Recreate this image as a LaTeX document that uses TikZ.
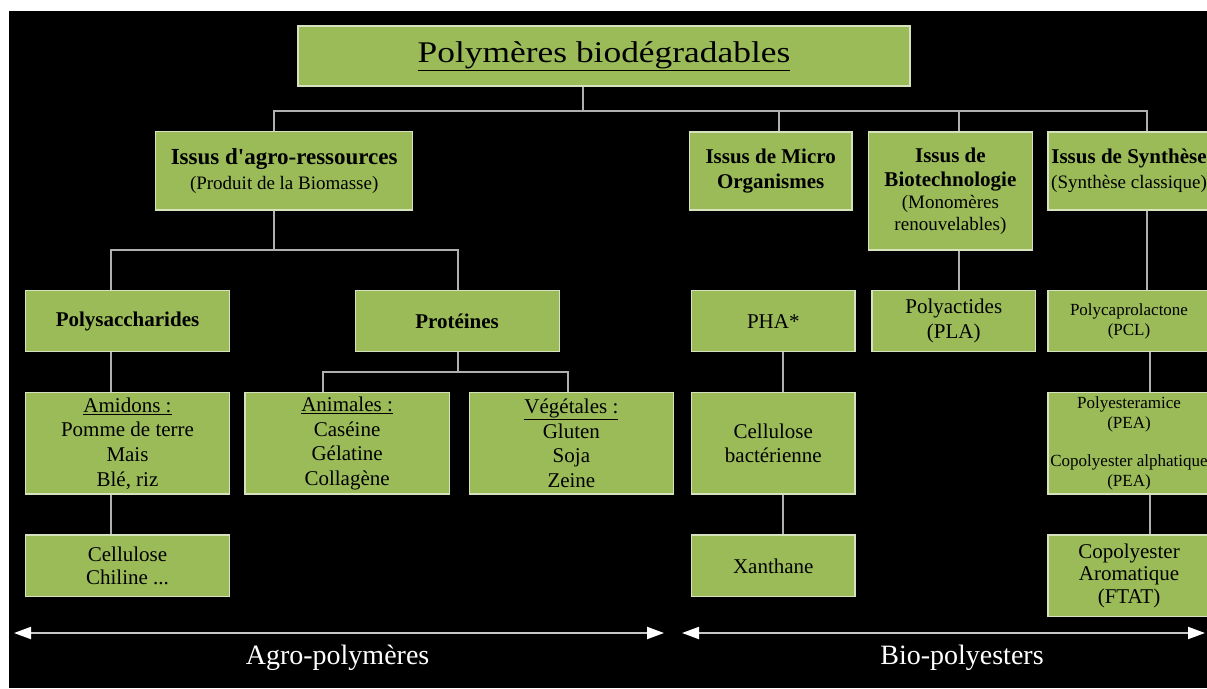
\documentclass[tikz,border=0pt]{standalone}
\usepackage{fontspec}
\setmainfont{Liberation Serif}
\newfontfamily\titlefont[FakeStretch=1.18]{Liberation Serif}
\usetikzlibrary{arrows.meta}
\definecolor{boxgreen}{RGB}{155,187,89}
\definecolor{boxline}{RGB}{214,226,190}
\definecolor{linkgray}{RGB}{175,175,175}
\newcommand{\boxhead}[1]{\textbf{\fontsize{21}{25}\selectfont #1}}
\newcommand{\boxsub}[1]{{\fontsize{19}{22}\selectfont #1}}

\begin{document}
\begin{tikzpicture}
[x=1pt,y=-1pt,
box/.style={draw=boxline,line width=1.2pt,fill=boxgreen,inner sep=0pt,align=center,
	text=black,font=\fontsize{21}{24.7}\selectfont},
wh/.style 2 args={minimum width=#1pt,minimum height=#2pt},
small/.style={font=\fontsize{17}{20}\selectfont},
link/.style={draw=linkgray,line width=2pt},
rangearrow/.style={draw=white!78!black,line width=2pt,
	{Triangle[length=17pt,width=12pt,color=white]}-{Triangle[length=17pt,width=12pt,color=white]}},
caption/.style={text=white,font=\fontsize{28}{30}\selectfont}]

\useasboundingbox (0,0) rectangle (1207,688);
\fill[white] (0,0) rectangle (1207,688);
\fill[black] (9,11) rectangle (1207,688);
\clip (0,0) rectangle (1207,688);

% root
\node[box,wh={612}{60}] (title) at (604,56)
	{\titlefont\fontsize{30}{32}\selectfont\underline{Polymères biodégradables}};

% origins
\node[box,wh={256.7}{78.3}] (agro) at (284.2,170.9)
	{\textbf{\fontsize{23}{25}\selectfont Issus d\textquotesingle agro-ressources}\\\boxsub{(Produit de la Biomasse)}};
\node[box,wh={162.6}{78}] (micro) at (770.7,171) {\boxhead{Issus de Micro}\\\boxhead{Organismes}};
\node[box,wh={164}{118}] (biotech) at (950.4,191)
	{\boxhead{Issus de}\\\boxhead{Biotechnologie}\\[-3pt]\boxsub{(Monomères}\\[-3pt]\boxsub{renouvelables)}};
\node[box,wh={162}{78}] (synth) at (1129,171) {\boxhead{Issus de Synthèse}\\\boxsub{(Synthèse classique)}};

% families
\node[box,wh={204.3}{61}] (polys) at (127.5,321.2) {\textbf{Polysaccharides}};
\node[box,wh={204}{61}] (prot) at (457.1,321.2) {\textbf{Protéines}};
\node[box,wh={163.5}{61}] (pha) at (773.3,321.2) {PHA*};
\node[box,wh={163.5}{61}] (pla) at (953.8,321.2) {Polyactides\\(PLA)};
\node[box,small,wh={162}{61}] (pcl) at (1129,321.2) {Polycaprolactone\\(PCL)};

% examples
\node[box,wh={204.3}{101.3}] (amidons) at (127.5,443.4)
	{\underline{Amidons :}\\Pomme de terre\\Mais\\Blé, riz};
\node[box,wh={204.4}{101.3}] (anim) at (347.1,443.4)
	{\underline{Animales :}\\Caséine\\Gélatine\\Collagène};
\node[box,wh={204.4}{101.3}] (veget) at (571.4,443.4)
	{\underline{Végétales :}\\Gluten\\Soja\\Zeine};
\node[box,wh={163.5}{101.3}] (cbact) at (773.3,443.4) {Cellulose\\bactérienne};
\node[box,small,wh={162}{101.3}] (pea) at (1129,443.4)
	{Polyesteramice\\(PEA)\\[18pt]Copolyester alphatique\\(PEA)};

\node[box,wh={204.3}{61.7}] (cellu) at (127.5,565.9) {Cellulose\\[-2pt]Chiline ...};
\node[box,wh={163.5}{61.7}] (xanth) at (773.3,565.9) {Xanthane};
\node[box,wh={162}{81.7}] (ftat) at (1129,575.9) {Copolyester\\[-2pt]Aromatique\\[-2pt](FTAT)};

% connectors
\coordinate (bus1) at (583,111);
\coordinate (bus2) at (274.4,250);
\coordinate (bus3) at (458,372.3);
\draw[link] (title.south -| bus1) -- (bus1);
\foreach \c/\s in {agro/-9.8,micro/8.3,biotech/8.6,synth/17.6}
	\draw[link] (bus1) -| ([xshift=\s pt]\c.north);
\draw[link] (agro.south -| bus2) -- (bus2);
\foreach \c/\s in {polys/-16.5,prot/0.9}
	\draw[link] (bus2) -| ([xshift=\s pt]\c.north);
\draw[link] (prot.south -| bus3) -- (bus3);
\foreach \c/\s in {anim/-23.7,veget/-3.9}
	\draw[link] (bus3) -| ([xshift=\s pt]\c.north);
\foreach \a/\b/\s in {polys/amidons/-16.5,amidons/cellu/-16.5,pha/cbact/9.4,cbact/xanth/9.4,
	biotech/pla/8.6,synth/pcl/17.6,pcl/pea/21,pea/ftat/21}
	\draw[link] ([xshift=\s pt]\a.south) coordinate (p) -- (p |- \b.north);

% ranges
\coordinate (agroL) at (14,633);
\coordinate (agroR) at (664,633);
\coordinate (bioL) at (682,633);
\coordinate (bioR) at (1205,633);
\draw[rangearrow] (agroL) -- (agroR);
\draw[rangearrow] (bioL) -- (bioR);
\node[caption] (agrolab) at (337.6,658) {Agro-polymères};
\node[caption] (biolab) at (962,658) {Bio-polyesters};
\end{tikzpicture}
\end{document}
